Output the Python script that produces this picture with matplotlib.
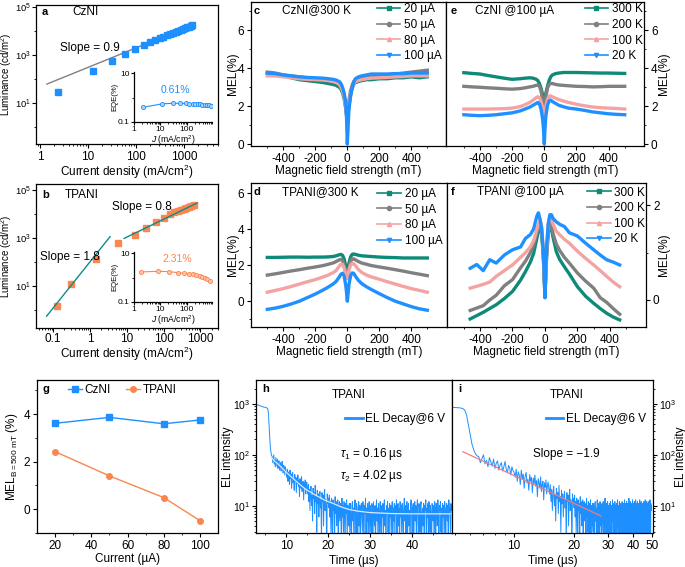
import numpy as np
import matplotlib
matplotlib.use('Agg')
import matplotlib.pyplot as plt
from matplotlib.lines import Line2D
from matplotlib.ticker import FixedLocator, NullFormatter, LogLocator, ScalarFormatter

plt.rcParams['font.family'] = ['Liberation Sans', 'DejaVu Sans']
plt.rcParams['mathtext.fontset'] = 'custom'
plt.rcParams['mathtext.rm'] = 'Liberation Sans'
plt.rcParams['mathtext.it'] = 'Liberation Sans:italic'
plt.rcParams['mathtext.bf'] = 'Liberation Sans:bold'
plt.rcParams['axes.unicode_minus'] = False
plt.rcParams['font.size'] = 8.5
plt.rcParams['axes.linewidth'] = 0.9
plt.rcParams['xtick.major.size'] = 3
plt.rcParams['ytick.major.size'] = 3
plt.rcParams['xtick.minor.size'] = 1.7
plt.rcParams['ytick.minor.size'] = 1.7
plt.rcParams['xtick.major.pad'] = 2
plt.rcParams['ytick.major.pad'] = 2

blue = '#1e8fff'
orange = '#fa8650'
teal = '#0f8a8a'

# ---- a : CzNI luminance
J_czni = [2.4, 12.7, 31.6, 59, 95, 147, 200, 250, 310, 370, 440, 510, 590, 670,
          760, 850, 950, 1050, 1150, 1260, 1380, 1500]
L_czni = [29, 215, 560, 1100, 1780, 2600, 3500, 4200, 5000, 5800, 6600, 7500, 8400,
          9300, 10300, 11200, 12200, 13100, 14000, 15000, 16000, 17000]
fit_a_J = [1.4, 1700]
fit_a_L = [62, 19600]
J_eqe_a = [2.2, 11.6, 29, 55, 91, 125, 165, 210, 260, 320, 390, 470, 560, 680, 800]
EQE_a = [0.40, 0.55, 0.58, 0.58, 0.57, 0.56, 0.55, 0.54, 0.53, 0.52, 0.51, 0.50,
         0.49, 0.48, 0.47]

# ---- b : TPANI luminance
J_tpani = [0.123, 0.3, 1.43, 5.9, 16.5, 33, 63, 100, 150, 190, 240, 290, 350, 410,
           480, 560, 660]
L_tpani = [1.47, 11.7, 138, 600, 1400, 2750, 4650, 6800, 10000, 11700, 13200, 14600,
           16200, 17800, 19500, 21500, 23700]
fit_b1_J = [0.066, 3.5]
fit_b1_L = [0.56, 1150]
fit_b2_J = [8.4, 810]
fit_b2_L = [970, 29000]
J_eqe_b = [1.88, 7.9, 20.5, 44.7, 79, 122, 173, 230, 305, 390, 490, 600, 730]
EQE_b = [1.69, 1.79, 1.74, 1.58, 1.49, 1.40, 1.36, 1.28, 1.20, 1.09, 1.0, 0.88, 0.74]

# ---- c-f : MEL vs field
B = [-500, -450, -400, -350, -300, -250, -200, -150, -120, -90, -70, -50, -40, -30,
     -20, -10, -5, 0, 5, 10, 20, 30, 40, 50, 70, 90, 120, 150, 200, 250, 300, 350,
     400, 450, 500]
Bf = [-460, -420, -380, -340, -300, -250, -200, -150, -120, -90, -70, -50, -40, -30,
      -20, -10, -5, 0, 5, 10, 20, 30, 40, 50, 70, 90, 120, 150, 200, 250, 300, 340,
      380, 420, 460]

c_20uA = [3.75, 3.7, 3.6, 3.5, 3.4, 3.35, 3.3, 3.25, 3.2, 3.15, 3.1, 3.0, 2.9, 2.7, 2.4,
          1.9, 1.5, 1.1, 1.6, 2.0, 2.6, 2.95, 3.15, 3.25, 3.3, 3.35, 3.4, 3.4, 3.45,
          3.45, 3.5, 3.5, 3.55, 3.5, 3.55]
c_50uA = [3.8, 3.75, 3.65, 3.6, 3.55, 3.5, 3.45, 3.45, 3.4, 3.35, 3.3, 3.25, 3.1, 2.9,
          2.6, 2.1, 1.7, 1.4, 1.8, 2.3, 2.8, 3.1, 3.3, 3.4, 3.45, 3.5, 3.55, 3.55, 3.6,
          3.65, 3.7, 3.75, 3.8, 3.85, 3.9]
c_80uA = [3.6, 3.6, 3.55, 3.5, 3.45, 3.42, 3.4, 3.38, 3.35, 3.3, 3.25, 3.15, 3.0, 2.8,
          2.5, 2.0, 1.6, 1.3, 1.7, 2.1, 2.6, 2.95, 3.15, 3.3, 3.35, 3.4, 3.45, 3.48, 3.5,
          3.52, 3.55, 3.57, 3.6, 3.6, 3.6]
c_100uA = [3.75, 3.72, 3.65, 3.6, 3.55, 3.52, 3.5, 3.48, 3.45, 3.42, 3.38, 3.3, 3.2,
           3.0, 2.7, 2.2, 1.5, 0.0, 0.9, 1.8, 2.5, 2.95, 3.25, 3.45, 3.55, 3.6, 3.65,
           3.7, 3.7, 3.7, 3.72, 3.72, 3.75, 3.75, 3.75]

e_300K = [3.77, 3.73, 3.7, 3.62, 3.55, 3.48, 3.42, 3.45, 3.48, 3.5, 3.48, 3.42, 3.35,
          3.2, 2.95, 2.6, 2.35, 2.2, 2.4, 2.7, 3.05, 3.35, 3.55, 3.65, 3.72, 3.75, 3.78,
          3.78, 3.78, 3.77, 3.76, 3.75, 3.75, 3.74, 3.73]
e_200K = [3.05, 3.02, 3.0, 2.97, 2.95, 2.92, 2.9, 2.93, 2.97, 3.02, 3.05, 3.1, 3.12,
          3.05, 2.8, 2.3, 2.0, 1.8, 2.1, 2.5, 2.95, 3.15, 3.2, 3.2, 3.15, 3.12, 3.1,
          3.08, 3.05, 3.04, 3.02, 3.03, 3.05, 3.05, 3.05]
e_100K = [1.85, 1.85, 1.85, 1.85, 1.86, 1.87, 1.9, 1.98, 2.08, 2.2, 2.32, 2.45, 2.5,
          2.45, 2.25, 1.9, 1.65, 1.5, 1.7, 2.0, 2.35, 2.52, 2.55, 2.5, 2.42, 2.35, 2.27,
          2.2, 2.1, 2.02, 1.96, 1.92, 1.9, 1.88, 1.85]
e_20K = [1.55, 1.52, 1.5, 1.52, 1.55, 1.6, 1.65, 1.75, 1.85, 1.95, 2.05, 2.15, 2.2,
         2.12, 1.85, 1.3, 0.8, 0.0, 0.9, 1.5, 2.05, 2.28, 2.32, 2.25, 2.15, 2.05, 1.97,
         1.9, 1.85, 1.78, 1.7, 1.65, 1.6, 1.57, 1.55]

d_20uA = [2.43, 2.43, 2.44, 2.45, 2.45, 2.44, 2.45, 2.45, 2.46, 2.48, 2.52, 2.58, 2.6,
          2.55, 2.35, 1.95, 1.7, 1.55, 1.8, 2.1, 2.45, 2.6, 2.62, 2.6, 2.55, 2.52, 2.5,
          2.48, 2.45, 2.43, 2.42, 2.4, 2.4, 2.4, 2.4]
d_50uA = [1.45, 1.52, 1.6, 1.68, 1.75, 1.83, 1.9, 1.98, 2.05, 2.12, 2.2, 2.3, 2.33,
          2.25, 2.0, 1.6, 1.4, 1.3, 1.5, 1.85, 2.2, 2.35, 2.35, 2.3, 2.2, 2.12, 2.05,
          1.98, 1.9, 1.83, 1.75, 1.67, 1.58, 1.5, 1.42]
d_80uA = [0.5, 0.6, 0.7, 0.82, 0.95, 1.08, 1.2, 1.35, 1.45, 1.58, 1.7, 1.95, 2.05, 2.05,
          1.85, 1.5, 1.35, 1.25, 1.45, 1.7, 2.0, 2.1, 2.08, 1.98, 1.75, 1.6, 1.45, 1.35,
          1.22, 1.08, 0.95, 0.82, 0.7, 0.6, 0.5]
d_100uA = [-0.45, -0.38, -0.28, -0.15, 0.0, 0.2, 0.4, 0.63, 0.78, 0.95, 1.1, 1.35, 1.5,
           1.55, 1.4, 0.9, 0.5, 0.0, 0.45, 0.9, 1.4, 1.57, 1.55, 1.4, 1.15, 0.98, 0.8,
           0.65, 0.42, 0.2, 0.0, -0.15, -0.3, -0.42, -0.5]

f_300K = [-0.4, -0.33, -0.26, -0.18, -0.1, 0.03, 0.18, 0.42, 0.6, 0.8, 0.98, 1.3, 1.45,
          1.55, 1.4, 0.9, 0.5, 0.05, 0.5, 0.9, 1.4, 1.57, 1.5, 1.32, 1.02, 0.86, 0.7,
          0.55, 0.28, 0.08, -0.07, -0.18, -0.28, -0.36, -0.42]
f_200K = [-0.22, -0.17, -0.12, 0.0, 0.1, 0.3, 0.43, 0.68, 0.82, 1.0, 1.15, 1.42, 1.52,
          1.6, 1.45, 0.95, 0.5, 0.1, 0.5, 0.95, 1.45, 1.62, 1.55, 1.4, 1.18, 1.05, 0.9,
          0.78, 0.57, 0.4, 0.25, 0.05, -0.05, -0.18, -0.3]
f_100K = [0.25, 0.29, 0.33, 0.38, 0.5, 0.62, 0.74, 0.9, 1.0, 1.12, 1.25, 1.49, 1.6,
          1.7, 1.55, 1.0, 0.6, 0.3, 0.6, 1.05, 1.6, 1.75, 1.7, 1.6, 1.45, 1.38, 1.28,
          1.2, 1.03, 0.88, 0.74, 0.62, 0.5, 0.38, 0.28]
f_20K = [0.67, 0.75, 0.62, 0.85, 0.78, 0.95, 1.06, 1.12, 1.3, 1.38, 1.5, 1.77, 1.84,
         1.7, 1.5, 1.0, 0.6, 0.05, 0.7, 1.1, 1.6, 1.8, 1.8, 1.72, 1.65, 1.6, 1.55,
         1.42, 1.35, 1.2, 1.06, 0.95, 0.85, 0.8, 0.74]

# ---- g : MEL at 500 mT
current = [20, 50, 80, 100]
mel500_czni = [3.61, 3.86, 3.59, 3.75]
mel500_tpani = [2.42, 1.40, 0.49, -0.48]

# ---- h, i : EL decay (sampled every 0.125 us from 2.75 us to 49.5 us)
t_el = np.arange(2.75, 49.51, 0.125)
el = [1000, 990, 975, 960, 950, 940, 930, 925, 915, 905, 900, 890, 885, 880, 870, 865,
      860, 855, 850, 845, 840, 830, 810,
      760, 600, 380, 240, 160, 125, 105, 95,
      92, 70, 84, 100, 66, 78, 58, 88, 72, 60, 82, 54, 68, 76, 50, 63, 70, 48, 58, 74,
      52, 44, 62, 55, 40, 58, 49, 45,
      36, 52, 30, 46, 40, 26, 50, 34, 42, 22, 38, 45, 28, 33, 20, 41, 30, 36, 18, 35,
      27, 40, 24, 31, 15, 34, 28, 22, 37, 19, 26, 30, 13, 28, 23, 32, 17, 25, 29, 21,
      17, 26, 12, 21, 8, 19, 24, 10, 16, 5, 22, 14, 18, 7, 25, 12, 15, 3, 20, 11,
      17, 6, 14, 19, 9, 13, 2, 18, 12, 16, 4, 15, 21, 8, 13, 10, 1, 17, 11, 14,
      9, 16, 6, 12, 3, 14, 10, 1, 13, 8, 11, 2, 15, 7, 12, 4, 10, 13, 1, 9,
      12, 5, 11, 8, 1, 14, 6, 10, 3, 12, 9, 1, 11, 7, 13, 2, 10, 8, 4, 11,
      3, 11, 7, 1, 10, 12, 5, 9, 1, 8, 13, 6, 2, 11, 9, 1, 7, 12, 4, 10,
      1, 9, 11, 6, 3, 12, 8, 1, 10, 7, 14, 2, 9, 5, 11, 1, 8, 12, 3, 10,
      6, 1, 11, 9, 2, 12, 7, 4, 10, 1, 8, 13, 5, 9, 1, 11, 7, 3, 12, 8,
      1, 10, 6, 11, 2, 9, 13, 4, 8, 1, 10, 7, 12, 3, 9, 1, 11, 6, 10, 2,
      8, 12, 1, 9, 5, 11, 2, 10, 7, 13, 1, 8, 11, 4, 9, 1, 12, 6, 10, 3,
      11, 8, 1, 9, 14, 5, 10, 2, 7, 12, 1, 9, 11, 4, 8, 1, 10, 13, 6, 2,
      9, 11, 1, 8, 12, 5, 10, 2, 9, 13, 6, 1, 11, 8, 3, 10, 12, 1, 7, 9,
      4, 11, 1, 10, 8, 13, 2, 9, 6, 11, 1, 12, 8, 3, 10, 7, 1, 11, 9, 5,
      10, 1, 12, 8, 2, 11, 9, 4, 13, 7, 1, 10, 8, 12, 3, 9, 1, 11, 6, 10,
      2, 12, 8, 1, 9, 11, 5, 10, 1, 13, 7, 9, 3, 11, 8, 10]
fit_t = [6.4, 7, 8, 9, 10, 11, 12, 13, 14, 15, 16, 17, 18, 19, 20, 21, 22, 23, 24, 25,
         27, 30, 35, 40, 49.5]
fit_el = [90, 78, 66, 55, 45, 38, 32, 27, 23, 20, 18, 16, 14.5, 13, 12, 11.2, 10.3,
          9.5, 8.9, 8.4, 7.8, 7.3, 7.0, 6.9, 6.9]
slope_t = [5.5, 27.5]
slope_el = [115, 6.3]

mel_colors = ['#0e8a78', '#808080', '#f4a3a3', '#1e90ff']
mel_markers = ['s', 'o', '^', 'v']

fig = plt.figure(figsize=(6.85, 5.67), dpi=100)


def box(l, t, r, b):
    return fig.add_axes([l / 685, 1 - b / 567, (r - l) / 685, (b - t) / 567])


def minor(ax, xs=None, ys=None):
    if xs is not None:
        ax.xaxis.set_minor_locator(FixedLocator(xs))
    if ys is not None:
        ax.yaxis.set_minor_locator(FixedLocator(ys))


def mel_panel(ax, x, curves, labels, leg_x, leg_y):
    for y, col in zip(curves, mel_colors):
        ax.plot(x, y, color=col, lw=2.4, solid_joinstyle='round')
    hs = [Line2D([], [], color=c, marker=m, ms=3, lw=1.2) for c, m in zip(mel_colors, mel_markers)]
    ax.legend(hs, labels, loc='upper left', bbox_to_anchor=(leg_x, leg_y), frameon=False,
              handlelength=2.0, handletextpad=0.3, labelspacing=0.3, borderpad=0,
              borderaxespad=0)
    ax.set_xticks([-400, -200, 0, 200, 400])
    minor(ax, xs=[-500, -300, -100, 100, 300, 500])
    ax.set_xlabel('Magnetic field strength (mT)', labelpad=0)


def inset(ax, x, y, col, face, txt, tx, ty):
    ax.set_xscale('log')
    ax.set_yscale('log')
    ax.plot(x, y, '-o', color=col, mfc=face, mec=col, ms=3, lw=0.8, mew=0.6)
    ax.set_xlim(1, 900)
    ax.set_ylim(0.1, 11)
    ax.spines['top'].set_visible(False)
    ax.spines['right'].set_visible(False)
    ax.set_xticks([1, 10, 100])
    ax.xaxis.set_major_formatter(ScalarFormatter())
    ax.xaxis.set_minor_locator(LogLocator(base=10, subs=np.arange(2, 10)))
    ax.xaxis.set_minor_formatter(NullFormatter())
    ax.set_yticks([0.1, 10])
    ax.set_yticklabels(['0.1', '10'])
    minor(ax, ys=[1])
    ax.yaxis.set_minor_formatter(NullFormatter())
    ax.tick_params(labelsize=6, length=2, pad=1)
    ax.tick_params(which='minor', length=1.2)
    ax.set_ylabel('EQE(%)', fontsize=5.5, labelpad=0)
    ax.set_xlabel('$J$ (mA/cm$^2$)', fontsize=6.2, labelpad=0)
    ax.text(tx, ty, txt, transform=ax.transAxes, color=col, fontsize=7.5, ha='center')
    ax.patch.set_alpha(0)


# a
ax_a = box(36, 5, 218, 144)
ax_a.set_xscale('log')
ax_a.set_yscale('log')
ax_a.plot(fit_a_J, fit_a_L, color='#808080', lw=1)
ax_a.plot(J_czni, L_czni, 's', color=blue, ms=4)
ax_a.set_xlim(0.83, 5100)
ax_a.set_ylim(0.2, 1.2e5)
ax_a.set_yticks([1e1, 1e3, 1e5])
minor(ax_a, ys=[1, 1e2, 1e4])
ax_a.yaxis.set_minor_formatter(NullFormatter())
ax_a.tick_params(axis='y', labelsize=6.8, pad=0.5)
ax_a.set_xticks([1, 10, 100, 1000])
ax_a.xaxis.set_major_formatter(ScalarFormatter())
ax_a.set_xlabel('Current density (mA/cm$^2$)', labelpad=0)
ax_a.set_ylabel('Luminance (cd/m$^2$)', fontsize=7)
ax_a.yaxis.set_label_coords(-0.12, 0.5)
ax_a.text(0.033, 0.93, 'a', transform=ax_a.transAxes, fontweight='bold', fontsize=8)
ax_a.text(0.2, 0.93, 'CzNI', transform=ax_a.transAxes)
ax_a.text(0.132, 0.67, 'Slope = 0.9', transform=ax_a.transAxes)
ax_ai = box(134, 72, 212, 122)
inset(ax_ai, J_eqe_a, EQE_a, blue, '#a8d3ff', '0.61%', 0.53, 0.58)

# b
ax_b = box(36, 184, 218, 328)
ax_b.set_xscale('log')
ax_b.set_yscale('log')
ax_b.plot(fit_b1_J, fit_b1_L, color=teal, lw=1)
ax_b.plot(fit_b2_J, fit_b2_L, color=teal, lw=1)
ax_b.plot(J_tpani, L_tpani, 's', color=orange, ms=4, zorder=1)
ax_b.set_xlim(0.034, 3000)
ax_b.set_ylim(0.18, 1.8e5)
ax_b.set_yticks([1e1, 1e3, 1e5])
minor(ax_b, ys=[1, 1e2, 1e4])
ax_b.yaxis.set_minor_formatter(NullFormatter())
ax_b.tick_params(axis='y', labelsize=6.8, pad=0.5)
ax_b.set_xticks([0.1, 1, 10, 100, 1000])
ax_b.set_xticklabels(['0.1', '1', '10', '100', '1000'])
ax_b.tick_params(axis='x', pad=0.5)
ax_b.set_xlabel('Current density (mA/cm$^2$)', labelpad=0)
ax_b.set_ylabel('Luminance (cd/m$^2$)', fontsize=7)
ax_b.yaxis.set_label_coords(-0.12, 0.5)
ax_b.text(0.033, 0.9, 'b', transform=ax_b.transAxes, fontweight='bold', fontsize=8)
ax_b.text(0.16, 0.9, 'TPANI', transform=ax_b.transAxes)
ax_b.text(0.418, 0.82, 'Slope = 0.8', transform=ax_b.transAxes)
ax_b.text(0.022, 0.47, 'Slope = 1.8', transform=ax_b.transAxes)
ax_bi = box(134, 252, 212, 302)
inset(ax_bi, J_eqe_b, EQE_b, orange, '#ffc4a6', '2.31%', 0.56, 0.8)

# c
ax_c = box(251, 2, 446, 146)
mel_panel(ax_c, B, [c_20uA, c_50uA, c_80uA, c_100uA],
          ['20 µA', '50 µA', '80 µA', '100 µA'], 0.645, 0.99)
ax_c.set_xlim(-602, 617)
ax_c.set_ylim(-0.1, 7.5)
ax_c.set_yticks([0, 2, 4, 6])
minor(ax_c, ys=[1, 3, 5, 7])
ax_c.set_ylabel('MEL(%)')
ax_c.yaxis.set_label_coords(-0.062, 0.5)
ax_c.text(0.015, 0.92, 'c', transform=ax_c.transAxes, fontweight='bold', fontsize=8)
ax_c.text(0.158, 0.92, 'CzNI@300 K', transform=ax_c.transAxes)

# e
ax_e = box(446, 2, 644, 146)
mel_panel(ax_e, B, [e_300K, e_200K, e_100K, e_20K],
          ['300 K', '200 K', '100 K', '20 K'], 0.7, 0.99)
ax_e.set_xlim(-611, 620)
ax_e.set_ylim(-0.1, 7.5)
ax_e.yaxis.tick_right()
ax_e.yaxis.set_label_position('right')
ax_e.set_yticks([0, 2, 4, 6])
minor(ax_e, ys=[1, 3, 5, 7])
ax_e.set_ylabel('MEL(%)')
ax_e.yaxis.set_label_coords(1.071, 0.5)
ax_e.text(0.022, 0.92, 'e', transform=ax_e.transAxes, fontweight='bold', fontsize=8)
ax_e.text(0.146, 0.92, 'CzNI @100 µA', transform=ax_e.transAxes)

# d
ax_d = box(251, 183, 447, 327)
mel_panel(ax_d, B, [d_20uA, d_50uA, d_80uA, d_100uA],
          ['20 µA', '50 µA', '80 µA', '100 µA'], 0.645, 0.965)
ax_d.set_xlim(-602, 623)
ax_d.set_ylim(-1.43, 6.56)
ax_d.set_yticks([0, 2, 4, 6])
minor(ax_d, ys=[-1, 1, 3, 5])
ax_d.set_ylabel('MEL(%)')
ax_d.yaxis.set_label_coords(-0.062, 0.5)
ax_d.text(0.015, 0.915, 'd', transform=ax_d.transAxes, fontweight='bold', fontsize=8)
ax_d.text(0.158, 0.915, 'TPANI@300 K', transform=ax_d.transAxes)

# f
ax_f = box(447, 183, 646, 327)
mel_panel(ax_f, Bf, [f_300K, f_200K, f_100K, f_20K],
          ['300 K', '200 K', '100 K', '20 K'], 0.705, 0.975)
ax_f.set_xlim(-603, 622)
ax_f.set_ylim(-0.57, 2.47)
ax_f.yaxis.tick_right()
ax_f.yaxis.set_label_position('right')
ax_f.set_yticks([0, 2])
minor(ax_f, ys=[1])
ax_f.set_ylabel('MEL(%)')
ax_f.yaxis.set_label_coords(1.06, 0.5)
ax_f.text(0.02, 0.92, 'f', transform=ax_f.transAxes, fontweight='bold', fontsize=8)
ax_f.text(0.15, 0.92, 'TPANI @100 µA', transform=ax_f.transAxes)

# g
ax_g = box(37, 380, 218, 533)
ax_g.plot(current, mel500_czni, '-s', color=blue, ms=4, lw=1, label='CzNI')
ax_g.plot(current, mel500_tpani, '-o', color=orange, ms=4, lw=1, label='TPANI')
ax_g.set_xlim(10, 110)
ax_g.set_ylim(-1, 5.43)
ax_g.set_xticks([20, 40, 60, 80, 100])
minor(ax_g, xs=[30, 50, 70, 90], ys=[-1, 1, 3, 5])
ax_g.set_yticks([0, 2, 4])
ax_g.set_xlabel('Current (µA)', labelpad=1)
ax_g.set_ylabel(r'MEL$_{\mathrm{B=500\ mT}}$ (%)')
ax_g.yaxis.set_label_coords(-0.094, 0.5)
ax_g.legend(loc='upper left', bbox_to_anchor=(0.17, 0.975), ncol=2, frameon=False,
            handlelength=1.2, handletextpad=0.2, columnspacing=1.3, borderpad=0,
            borderaxespad=0)
ax_g.text(0.03, 0.92, 'g', transform=ax_g.transAxes, fontweight='bold', fontsize=8)

# h
ax_h = box(256, 380, 452, 533)
ax_h.set_yscale('log')
ax_h.plot(t_el, el, color=blue, lw=0.7, label='EL Decay@6 V')
ax_h.plot(fit_t, fit_el, color='#d6ebff', lw=0.9)
ax_h.set_xlim(2.76, 49.5)
ax_h.set_ylim(2.9, 2950)
ax_h.set_xticks([10, 20, 30, 40])
minor(ax_h, xs=[5, 15, 25, 35, 45])
ax_h.tick_params(axis='y', pad=1, labelsize=7.5)
ax_h.set_xlabel('Time (µs)', labelpad=2)
ax_h.set_ylabel('EL intensity')
ax_h.yaxis.set_label_coords(-0.112, 0.5)
leg = ax_h.legend(loc='center right', bbox_to_anchor=(0.965, 0.745), frameon=False,
                  handlelength=1.5, handletextpad=0.2, borderpad=0, borderaxespad=0)
leg.get_lines()[0].set_linewidth(2)
ax_h.text(0.03, 0.92, 'h', transform=ax_h.transAxes, fontweight='bold', fontsize=8)
ax_h.text(0.474, 0.88, 'TPANI', transform=ax_h.transAxes, ha='center')
ax_h.text(0.43, 0.5, r'$\tau_1$ = 0.16 µs', transform=ax_h.transAxes)
ax_h.text(0.43, 0.355, r'$\tau_2$ = 4.02 µs', transform=ax_h.transAxes)

# i
ax_i = box(452, 380, 653, 533)
ax_i.set_xscale('log')
ax_i.set_yscale('log')
ax_i.plot(t_el, el, color=blue, lw=0.7, label='EL Decay@6 V')
ax_i.plot(slope_t, slope_el, color='#f07c7c', lw=0.9)
ax_i.set_xlim(4.85, 50.5)
ax_i.set_ylim(2.9, 2950)
ax_i.set_xticks([10, 20, 30, 40, 50])
ax_i.xaxis.set_major_formatter(ScalarFormatter())
minor(ax_i, xs=[5, 6, 7, 8, 9])
ax_i.xaxis.set_minor_formatter(NullFormatter())
ax_i.yaxis.tick_right()
ax_i.yaxis.set_label_position('right')
ax_i.tick_params(axis='y', pad=1, labelsize=7.5)
ax_i.set_xlabel('Time (µs)', labelpad=2)
ax_i.set_ylabel('EL intensity')
ax_i.yaxis.set_label_coords(1.107, 0.5)
leg = ax_i.legend(loc='center right', bbox_to_anchor=(0.965, 0.745), frameon=False,
                  handlelength=1.5, handletextpad=0.2, borderpad=0, borderaxespad=0)
leg.get_lines()[0].set_linewidth(2)
ax_i.text(0.03, 0.92, 'i', transform=ax_i.transAxes, fontweight='bold', fontsize=8)
ax_i.text(0.572, 0.88, 'TPANI', transform=ax_i.transAxes, ha='center')
ax_i.text(0.405, 0.5, 'Slope = \u22121.9', transform=ax_i.transAxes)

fig.savefig('out.png', dpi=100)
